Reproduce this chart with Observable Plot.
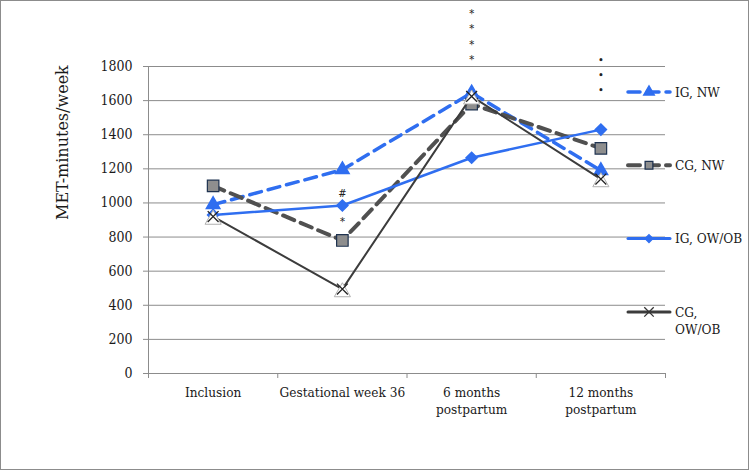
<!DOCTYPE html>
<html>
<head>
<meta charset="utf-8">
<script src="https://cdn.jsdelivr.net/npm/d3@7"></script>
<script src="https://cdn.jsdelivr.net/npm/@observablehq/plot@0.6"></script>
<style>
  html, body { margin: 0; padding: 0; background: #fff; }
  #wrap { position: relative; width: 750px; height: 471px; overflow: hidden; background: #fff; }
  #border { position: absolute; left: 0; top: 0; width: 747px; height: 468px; border: 1px solid #8c8c8c; }
  #chart, #legend { position: absolute; left: 0; top: 0; }
</style>
</head>
<body>
<div id="wrap"><div id="border"></div><div id="chart"></div><svg id="legend" width="750" height="471"></svg></div>
<script>
// ---- data ----
const categories = ["Inclusion", "Gestational week 36", "6 months\npostpartum", "12 months\npostpartum"];
const seriesNames = ["IG, NW", "CG, NW", "IG, OW/OB", "CG,\nOW/OB"];
const igNW = [990, 1195, 1645, 1190];
const cgNW = [1100, 780, 1580, 1320];
const igOW = [930, 985, 1265, 1430];
const cgOW = [920, 495, 1625, 1140];
const yTicks = [0, 200, 400, 600, 800, 1000, 1200, 1400, 1600, 1800];
// significance annotations: category index, y value, text
const annCat = [1, 1, 2, 3];
const annY = [1065, 900, 1985, 1756];
const annText = ["#", "*", "*\n*\n*\n*", "•\n•\n•"];

// ---- styles ----
const BLUE = "#2f6ef0";
const GRAY_D = "#505050";
const GRAY_S = "#3c3c3c";
const SERIF = "'DejaVu Serif Condensed', 'DejaVu Serif', serif";

const rows = (vals) => vals.map((v, i) => ({x: i, y: v}));
const ann = annCat.map((c, i) => ({x: c, y: annY[i], t: annText[i]}));

const plot = Plot.plot({
  width: 750,
  height: 471,
  marginLeft: 148,
  marginRight: 85,
  marginTop: 66,
  marginBottom: 98,
  style: {background: "transparent", fontFamily: SERIF},
  x: {type: "linear", domain: [-0.5, categories.length - 0.5], axis: null},
  y: {domain: [0, 1800], axis: null},
  marks: [
    Plot.gridY(yTicks, {stroke: "#8c8c8c", strokeOpacity: 1, strokeWidth: 1}),
    Plot.ruleX([-0.5], {stroke: "#8c8c8c", strokeWidth: 1}),
    Plot.axisY(yTicks, {tickSize: 5, tickPadding: 11, stroke: "#8c8c8c", fill: "#1a1a1a", fontSize: 14, label: null, tickFormat: d => String(d)}),
    Plot.axisX(d3.range(categories.length + 1).map(i => i - 0.5), {tickSize: 5, stroke: "#8c8c8c", tickFormat: () => "", label: null}),
    Plot.axisX(d3.range(categories.length), {tickSize: 0, tickPadding: 12, fill: "#1a1a1a", fontSize: 13.5, lineHeight: 1.25, label: null, tickFormat: i => categories[i]}),
    Plot.text(["MET-minutes/week"], {frameAnchor: "left", dx: -86, rotate: -90, fontSize: 16, fill: "#1a1a1a", fontFamily: "'DejaVu Serif', serif"}),

    // IG, NW
    Plot.line(rows(igNW), {x: "x", y: "y", stroke: BLUE, strokeWidth: 3.5, strokeDasharray: "12,7", strokeLinecap: "round"}),
    Plot.dot(rows(igNW), {x: "x", y: "y", symbol: "triangle", r: 5, fill: BLUE, stroke: BLUE}),
    // CG, NW
    Plot.line(rows(cgNW), {x: "x", y: "y", stroke: GRAY_D, strokeWidth: 4, strokeDasharray: "12,7", strokeLinecap: "round"}),
    Plot.dot(rows(cgNW), {x: "x", y: "y", symbol: "square", r: 6.5, fill: "#8e8e8e", stroke: "#1f3350", strokeWidth: 1.2}),
    // IG, OW/OB
    Plot.line(rows(igOW), {x: "x", y: "y", stroke: BLUE, strokeWidth: 2.5}),
    Plot.dot(rows(igOW), {x: "x", y: "y", symbol: "diamond2", r: 5, fill: BLUE, stroke: BLUE}),
    // CG, OW/OB
    Plot.line(rows(cgOW), {x: "x", y: "y", stroke: GRAY_S, strokeWidth: 2}),
    Plot.dot(rows(cgOW), {x: "x", y: "y", symbol: "triangle", r: 6, dy: 3, fill: "#fff", stroke: "#b0b0b0", strokeWidth: 1}),
    Plot.dot(rows(cgOW), {x: "x", y: "y", symbol: "times", r: 5, stroke: "#222", strokeWidth: 1.3}),

    // annotations
    Plot.text(ann, {x: "x", y: "y", text: "t", fontSize: 11, lineHeight: 1.4, fill: "#222"})
  ]
});
document.getElementById("chart").appendChild(plot);

// ---- legend (right side) ----
const lg = d3.select("#legend");
const legX0 = 628, legX1 = 670, legTextX = 675, legY0 = 92, legStep = 73.3;
const legStyles = [
  {stroke: BLUE, width: 3.5, dash: "12,7", sym: d3.symbolTriangle, size: 50, fill: BLUE, sstroke: BLUE},
  {stroke: GRAY_D, width: 4, dash: "12,7", sym: d3.symbolSquare, size: 60, fill: "#8e8e8e", sstroke: "#1f3350"},
  {stroke: BLUE, width: 3, dash: null, sym: d3.symbolDiamond2, size: 40, fill: BLUE, sstroke: BLUE},
  {stroke: GRAY_S, width: 3, dash: null, sym: d3.symbolTimes, size: 60, fill: "none", sstroke: "#333"}
];
seriesNames.forEach((name, i) => {
  const y = legY0 + i * legStep;
  const st = legStyles[i];
  const g = lg.append("g");
  g.append("line").attr("x1", legX0).attr("x2", legX1).attr("y1", y).attr("y2", y)
    .attr("stroke", st.stroke).attr("stroke-width", st.width)
    .attr("stroke-dasharray", st.dash).attr("stroke-linecap", "round");
  g.append("path").attr("transform", `translate(${(legX0 + legX1) / 2},${y})`)
    .attr("d", d3.symbol(st.sym, st.size)())
    .attr("fill", st.fill).attr("stroke", st.sstroke).attr("stroke-width", 1.3);
  const lines = name.split("\n");
  const t = g.append("text").attr("x", legTextX).attr("y", y).attr("dy", "0.35em")
    .attr("font-family", SERIF).attr("font-size", 13.5).attr("fill", "#1a1a1a");
  lines.forEach((ln, j) => t.append("tspan").attr("x", legTextX).attr("dy", j === 0 ? "0.35em" : "1.25em").text(ln));
});
</script>
</body>
</html>
